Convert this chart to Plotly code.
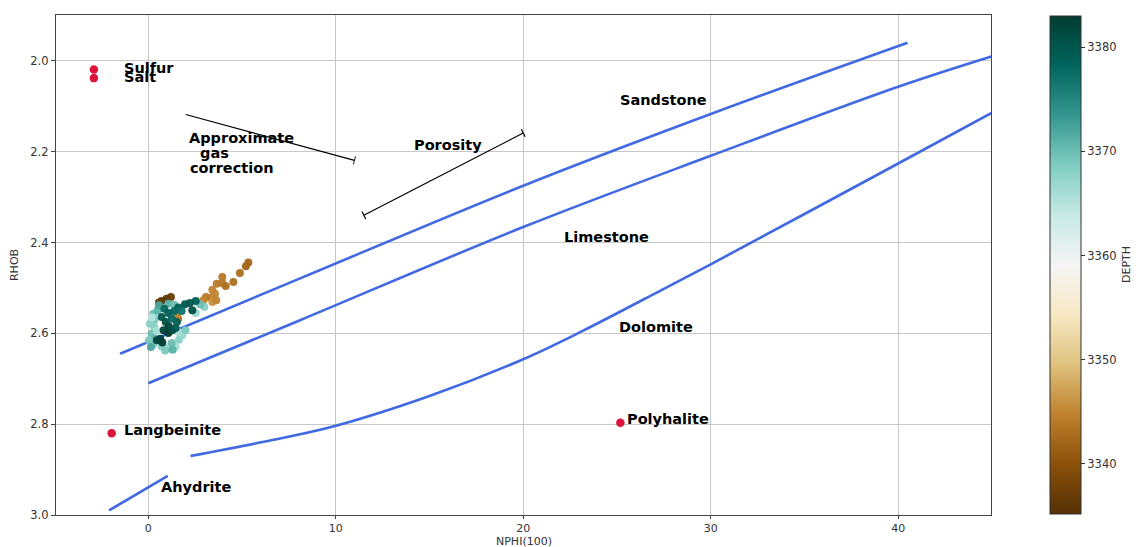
import plotly.graph_objects as go

# ---------------- data ----------------
# Well log crossplot points (NPHI in %, RHOB in g/cc, DEPTH)
nphi = [0.71, 0.98, 1.21, 0.57,
        5.34, 5.21, 4.89, 4.54, 3.95, 3.95, 3.65, 4.13, 3.42, 3.56, 3.34, 3.08, 2.94, 3.42, 3.63, 1.60, 1.51,
        0.27, 0.32, 0.32, 0.18, 0.36, 0.27, 0.71, 1.07, 1.46, 1.25, 1.64, 1.82, 1.60, 1.99, 0.50, 0.57,
        1.07, 1.39, 2.53, 2.99, 2.76, 0.09, 0.04, 0.14, 0.45, 0.90, 1.30, 0.20,
        2.53, 2.22, 1.96, 2.35, 1.60, 1.39, 0.86, 1.07, 0.71, 0.93, 1.10, 0.82, 1.07, 0.64, 0.75, 0.46,
        1.28, 1.46, 1.53, 1.25, 1.78]
rhob = [2.529, 2.524, 2.520, 2.532,
        2.444, 2.452, 2.467, 2.487, 2.476, 2.489, 2.491, 2.496, 2.504, 2.513, 2.521, 2.520, 2.527, 2.531, 2.527, 2.568, 2.560,
        2.557, 2.571, 2.586, 2.601, 2.612, 2.624, 2.629, 2.632, 2.630, 2.621, 2.614, 2.604, 2.597, 2.593, 2.549, 2.538,
        2.535, 2.537, 2.555, 2.542, 2.536, 2.579, 2.615, 2.630, 2.595, 2.638, 2.636, 2.565,
        2.529, 2.533, 2.536, 2.549, 2.543, 2.551, 2.546, 2.555, 2.564, 2.575, 2.585, 2.593, 2.599, 2.612, 2.620, 2.615,
        2.593, 2.588, 2.575, 2.568, 2.551]
depth = [3336, 3336, 3337, 3337,
         3342, 3342, 3343, 3343, 3344, 3344, 3344, 3343, 3345, 3345, 3345, 3344, 3345, 3346, 3345, 3344, 3345,
         3370, 3369, 3368, 3370, 3371, 3369, 3368, 3367, 3366, 3370, 3368, 3367, 3366, 3369, 3371, 3372,
         3371, 3370, 3367, 3368, 3370, 3368, 3369, 3372, 3366, 3369, 3371, 3365,
         3379, 3380, 3380, 3381, 3379, 3378, 3378, 3379, 3380, 3381, 3382, 3382, 3383, 3382, 3383, 3382,
         3381, 3380, 3379, 3378, 3377]

# Lithology lines
sandstone_x = [-1.5, 8.1, 20.0, 30.0, 40.5]
sandstone_y = [2.645, 2.479, 2.275, 2.117, 1.960]
limestone_x = [0.0, 8.1, 20.0, 30.0, 40.0, 45.0]
limestone_y = [2.710, 2.571, 2.366, 2.209, 2.057, 1.990]
dolomite_x = [2.25, 6.0, 9.7, 15.0, 20.0, 23.2, 27.45, 30.0, 40.0, 45.0]
dolomite_y = [2.870, 2.840, 2.807, 2.738, 2.657, 2.594, 2.503, 2.448, 2.226, 2.114]
anhydrite_x = [-2.09, 1.04]
anhydrite_y = [2.990, 2.914]

# Gas correction and porosity guide segments
gas_x = [2.0, 11.0]
gas_y = [2.118, 2.219]
por_x = [11.5, 20.0]
por_y = [2.340, 2.159]

# Mineral points
mineral_names = ["Sulfur", "Salt", "Langbeinite", "Polyhalite"]
mineral_x = [-2.9, -2.9, -1.95, 25.18]
mineral_y = [2.019, 2.038, 2.820, 2.797]

# Text labels (label, x, y)
label_text = ["Sulfur", "Salt", "Langbeinite", "Polyhalite", "Sandstone", "Limestone",
              "Dolomite", "Ahydrite", "Porosity", "Approximate", "gas", "correction"]
label_x = [-1.30, -1.29, -1.28, 25.55, 25.14, 22.18, 25.10, 0.70, 14.18, 2.18, 2.77, 2.23]
label_y = [2.016, 2.036, 2.812, 2.788, 2.086, 2.387, 2.587, 2.939, 2.186, 2.169, 2.203, 2.235]

x_ticks = [0, 10, 20, 30, 40]
y_ticks = [2.0, 2.2, 2.4, 2.6, 2.8, 3.0]
cbar_ticks = [3340, 3350, 3360, 3370, 3380]

# ---------------- figure ----------------
BLUE = "#4169E1"
fig = go.Figure()

for xs, ys in [(sandstone_x, sandstone_y), (limestone_x, limestone_y),
               (dolomite_x, dolomite_y), (anhydrite_x, anhydrite_y)]:
    fig.add_trace(go.Scatter(x=xs, y=ys, mode="lines",
                             line=dict(color=BLUE, width=2.6, shape="spline", smoothing=1.0),
                             showlegend=False, hoverinfo="skip"))

fig.add_trace(go.Scatter(x=gas_x, y=gas_y, mode="lines+markers",
                         line=dict(color="black", width=1.2),
                         marker=dict(symbol="line-ns", size=[0.1, 6], angle=15,
                                     line=dict(color="black", width=1.2)),
                         showlegend=False, hoverinfo="skip"))
fig.add_trace(go.Scatter(x=por_x, y=por_y, mode="lines+markers",
                         line=dict(color="black", width=1.2),
                         marker=dict(symbol="line-ns", size=6, angle=-27,
                                     line=dict(color="black", width=1.2)),
                         showlegend=False, hoverinfo="skip"))

fig.add_trace(go.Scatter(
    x=nphi, y=rhob, mode="markers",
    marker=dict(size=8, color=depth, colorscale="BrBG", cmin=3335.2, cmax=3383.0,
                line=dict(width=0), opacity=0.95,
                colorbar=dict(
                    x=1.0631, xanchor="left", xref="paper", y=0.5, yanchor="middle",
                    len=0.995, lenmode="fraction", thickness=31, xpad=0, ypad=0,
                    outlinewidth=1, outlinecolor="#333",
                    tickvals=cbar_ticks, ticks="outside", ticklen=4, tickcolor="#333",
                    tickfont=dict(family="DejaVu Sans", size=11.5, color="#333"),
                )),
    showlegend=False, hoverinfo="skip"))

fig.add_trace(go.Scatter(x=mineral_x, y=mineral_y, mode="markers",
                         marker=dict(size=8.5, color="#DC143C"),
                         text=mineral_names, showlegend=False, hoverinfo="text"))

for t, lx, ly in zip(label_text, label_x, label_y):
    fig.add_annotation(x=lx, y=ly, xref="x", yref="y", text=t, showarrow=False,
                       xanchor="left", yanchor="middle", xshift=-2,
                       font=dict(family="DejaVu Sans", size=14.5, color="black", weight="bold"))

axis_font = dict(family="DejaVu Sans", size=11.5, color="#333")
title_font = dict(family="DejaVu Sans", size=11, color="#333")

# Axis and colorbar titles
fig.add_annotation(x=1.1444, y=0.5, xref="paper", yref="paper", text="DEPTH", showarrow=False,
                   textangle=-90, xanchor="center", yanchor="middle", font=title_font)
fig.add_annotation(x=0.5, y=-0.053, xref="paper", yref="paper", text="NPHI(100)", showarrow=False,
                   xanchor="center", yanchor="middle", font=title_font)
fig.add_annotation(x=-0.0449, y=0.5, xref="paper", yref="paper", text="RHOB", showarrow=False,
                   textangle=-90, xanchor="center", yanchor="middle", font=title_font)

fig.update_layout(
    width=1138, height=547,
    margin=dict(l=56, r=147, t=15, b=32, autoexpand=False),
    plot_bgcolor="white", paper_bgcolor="white",
    xaxis=dict(range=[-4.92, 44.95], tickvals=x_ticks, showgrid=True, gridcolor="#c8c8c8", gridwidth=1,
               zeroline=False, showline=True, linecolor="#444", linewidth=1.2, mirror=True, automargin=False,
               ticks="outside", ticklen=3, tickcolor="#444", tickfont=dict(family="DejaVu Sans", size=11, color="#333")),
    yaxis=dict(range=[3.0, 1.899], tickvals=y_ticks, tickformat=".1f", showgrid=True, gridcolor="#c8c8c8",
               gridwidth=1, zeroline=False, showline=True, linecolor="#444", linewidth=1.2, mirror=True,
               automargin=False,
               ticks="outside", ticklen=4, tickcolor="#444", tickfont=axis_font),
)

fig.write_html("out.html", config={"displayModeBar": False},
               post_script="document.body.style.margin='0px';document.body.style.overflow='hidden';")
